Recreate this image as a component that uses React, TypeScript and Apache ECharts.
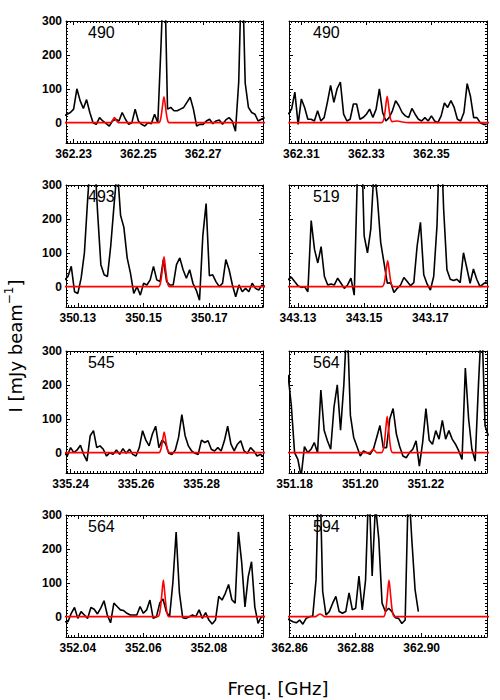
import React, { useEffect, useRef } from "react";
import * as echarts from "echarts";

// Panel labels and axis ranges (x in MHz relative to the first labelled tick)
const panelLabels = ["490", "490", "493", "519", "545", "564", "564", "594"];
const tickStartGHz = [362.23, 362.31, 350.13, 343.13, 335.24, 351.18, 352.04, 362.86];
const axisMinMHz = [-2.36, -3.8, -3.6, -2.7, -1.4, -1.7, -3.6, -0.2];
const axisMaxMHz = [58.5, 57.1, 56.3, 57.1, 58.8, 58.6, 56.5, 59.8];
const yMin = -60;
const yMax = 300;

// Observed spectra (mJy/beam), one value per 1 MHz channel, first channel at specStartMHz
const specStartMHz = [-3, -4, -4, -3, -2, -2, -4, -1];
const spec1 = [20, 25, 30, 40, 100, 65, 42, 68, 30, 0, -5, 15, 5, -2, -10, 5, 10, 5, 30, 10, -5, 0, 40, 5, -5, -10, 0, -3, 25, 0, 230, 500, 40, 45, 35, 35, 40, 45, 60, 75, 40, -10, -5, -5, 5, 10, -3, 5, 8, -5, 8, 15, 5, -25, 120, 500, 117, 45, 30, 25, 5, 10, 15];
const spec2 = [25, 40, 90, -5, 70, 45, 10, 10, 5, 35, 5, 15, 60, 110, 60, 100, 120, 25, 5, 10, 55, 55, 10, 15, 25, 40, 15, 40, 100, 30, 5, 15, 35, 65, 50, 30, 20, 15, 42, 25, 10, 5, 15, 5, 20, 5, 0, 20, 58, 45, 65, 45, 10, 5, 30, 115, 78, 15, 15, 0, -5, -5];
const spec3 = [20, 30, 60, -15, -20, 25, 100, 260, 400, 400, 220, 65, 35, 30, 120, 240, 350, 210, 175, 85, 40, -20, 0, -25, 10, 5, 20, 60, 20, 15, 80, 15, 5, 5, 65, 85, 50, 25, 50, 10, -10, -40, 150, 245, 32, 35, 15, 0, 10, 80, 50, 5, -30, 5, -15, -5, -15, 10, -5, -10, 5, 0];
const spec4 = [20, 28, 15, 3, -2, 0, -15, 195, 110, 70, 118, 30, 5, 8, 5, 25, 10, -5, 5, 25, -25, 350, 500, 150, 100, 170, 350, 260, 130, 70, 10, 12, -17, -5, 5, 27, 15, 3, 12, 120, 190, 35, 8, -10, 30, 180, 500, 230, 50, 22, 18, 22, 12, 100, 55, 10, 52, 22, 0, 8, 15];
const spec5 = [0, -10, 15, 0, 8, 22, -5, -25, 50, 65, 15, 20, 10, -10, 0, -5, 8, -5, 12, -2, 10, -5, -10, 15, 65, 37, 20, 55, 78, 15, 37, 27, -2, -5, 8, 45, 112, 50, 20, 5, -2, -5, 37, 30, 35, 10, 5, 15, 5, 35, 78, 25, 5, 25, 35, 5, -2, 15, 5, -10, -5, -12];
const spec6 = [230, 140, 0, -20, -70, 18, 0, 10, 30, 0, 185, 66, 35, 10, 134, 200, 66, 200, 400, 110, 45, 18, -10, 5, 0, -5, 10, 45, 80, 15, 15, 100, 130, 55, 18, -10, -15, 0, 10, 35, -40, 30, 130, 37, 25, 65, 40, 95, 40, 65, 40, 25, 5, -20, 250, 100, 10, -25, 200, 400, 80, 50];
const spec7 = [-15, -15, 10, 27, -5, 15, 5, -5, 27, 22, 8, 25, 47, 5, -18, 40, 30, 20, 18, 10, 5, 5, 5, 30, 10, 20, 49, -5, 0, 40, 52, 15, 0, 100, 250, 70, -3, -5, 0, 5, 0, 20, -5, 12, -10, -22, -10, 60, 49, 69, 95, 50, 40, 250, 160, 29, 118, 162, 29, -20, 0, 0];
const spec8 = [-5, -10, -15, -18, -10, -22, -5, 0, 2, 110, 500, 75, 5, 15, 39, 60, 15, 10, 15, 70, 20, 25, 120, 20, 108, 400, 120, 330, 230, 40, 15, 25, 15, -3, -5, -20, -10, 400, 230, 80, 15];

// Red model profiles: [MHz offset, mJy/beam]
const model1 = [[-3, 0], [11.3, 0], [12.0, 6], [12.6, 15], [13.2, 6], [13.9, 0], [26.3, 0], [26.9, 12], [27.4, 45], [27.9, 76], [28.4, 45], [28.9, 12], [29.5, 0], [60, 0]];
const model2 = [[-4, 0], [24.7, 0], [25.4, 12], [25.9, 45], [26.4, 78], [26.9, 45], [27.4, 12], [28, 3], [29.5, 5], [31, 2], [33, 0], [58, 0]];
const model3 = [[-4, 0], [24.5, 0], [25.2, 15], [25.7, 50], [26.2, 88], [26.7, 50], [27.2, 15], [27.9, 0], [58, 0]];
const model4 = [[-3, 0], [25.4, 0], [26.1, 12], [26.6, 45], [27.1, 76], [27.6, 45], [28.1, 12], [28.8, 0], [58, 0]];
const model5 = [[-2, 0], [27, 0], [27.6, 10], [28.1, 35], [28.6, 61], [29.1, 35], [29.6, 10], [30.3, 0], [60, 0]];
const model6 = [[-2, 0], [22.8, 0], [23.4, 5], [23.9, 10], [24.5, 5], [25, 0], [26.5, 0], [27.2, 18], [27.7, 62], [28.2, 107], [28.7, 62], [29.2, 18], [29.9, 0], [60, 0]];
const model7 = [[-4, 0], [24.4, 0], [25.1, 18], [25.6, 62], [26.1, 108], [26.6, 62], [27.1, 18], [27.8, 0], [58, 0]];
const model8 = [[-1, 0], [7.8, 0], [8.6, 5], [9.2, 8], [9.8, 5], [10.6, 0], [28.4, 0], [29.1, 18], [29.6, 62], [30.1, 108], [30.6, 62], [31.1, 18], [31.8, 0], [61, 0]];

const specs = [spec1, spec2, spec3, spec4, spec5, spec6, spec7, spec8];
const models = [model1, model2, model3, model4, model5, model6, model7, model8];

// Layout (px)
const colLeft = [66, 289];
const colWidth = [197, 198];
const rowTop = [21, 185, 351, 515];
const rowHeight = 122;

const isMultiple = (v: number, step: number) => Math.abs(v / step - Math.round(v / step)) < 1e-6;

export default function App() {
  const ref = useRef<HTMLDivElement>(null);
  useEffect(() => {
    if (!ref.current) return;
    const chart = echarts.init(ref.current, null, { renderer: "svg" });
    const grids: any[] = [];
    const xAxes: any[] = [];
    const yAxes: any[] = [];
    const series: any[] = [];
    const graphics: any[] = [];
    const tickLine = { color: "#000", width: 1 };
    const labelFont = { fontFamily: "Liberation Sans", fontWeight: "bold", fontSize: 12, color: "#000" };

    for (let i = 0; i < 8; i++) {
      const col = i % 2;
      const row = Math.floor(i / 2);
      grids.push({
        left: colLeft[col],
        top: rowTop[row],
        width: colWidth[col],
        height: rowHeight,
        containLabel: false,
        outerBoundsMode: "none",
      });
      const xBase = {
        type: "value",
        gridIndex: i,
        min: axisMinMHz[i],
        max: axisMaxMHz[i],
        splitNumber: 3,
        splitLine: { show: false },
        minorSplitLine: { show: false },
        axisLine: { show: true, onZero: false, lineStyle: { color: "#000", width: 1 } },
        axisTick: { show: true, inside: true, length: 4, lineStyle: tickLine },
        minorTick: { show: true, splitNumber: 20, length: 2, lineStyle: tickLine },
      };
      const t0 = tickStartGHz[i];
      xAxes.push({
        ...xBase,
        position: "bottom",
        axisLabel: {
          show: true,
          margin: 5,
          ...labelFont,
          showMinLabel: false,
          showMaxLabel: false,
          formatter: (v: number) => (isMultiple(v, 20) ? (t0 + v / 1000).toFixed(2) : ""),
        },
      });
      xAxes.push({ ...xBase, position: "top", axisLabel: { show: false } });
      const yBase = {
        type: "value",
        gridIndex: i,
        min: yMin,
        max: yMax,
        splitNumber: 4,
        splitLine: { show: false },
        minorSplitLine: { show: false },
        axisLine: { show: true, onZero: false, lineStyle: { color: "#000", width: 1 } },
        axisTick: { show: true, inside: true, length: 4, lineStyle: tickLine },
        minorTick: { show: true, splitNumber: 10, length: 2, lineStyle: tickLine },
      };
      yAxes.push({
        ...yBase,
        position: "left",
        axisLabel: {
          show: col === 0,
          margin: 4,
          ...labelFont,
          showMinLabel: false,
          formatter: (v: number) => (isMultiple(v, 100) && v >= 0 ? String(v) : ""),
        },
      });
      yAxes.push({ ...yBase, position: "right", axisLabel: { show: false } });

      const start = specStartMHz[i];
      series.push({
        type: "line",
        xAxisIndex: 2 * i,
        yAxisIndex: 2 * i,
        data: specs[i].map((v, k) => [start + k, v]),
        symbol: "none",
        showSymbol: false,
        silent: true,
        clip: true,
        lineStyle: { color: "#000", width: 1.6 },
        z: 2,
      });
      series.push({
        type: "line",
        xAxisIndex: 2 * i,
        yAxisIndex: 2 * i,
        data: models[i],
        symbol: "none",
        showSymbol: false,
        silent: true,
        clip: true,
        smooth: 0.3,
        lineStyle: { color: "#ff0000", width: 1.6 },
        z: 3,
      });

      graphics.push({
        type: "text",
        x: colLeft[col] + (col === 0 ? 22 : 24),
        y: rowTop[row] + 11,
        z: 10,
        style: {
          text: panelLabels[i],
          fontFamily: "Liberation Sans",
          fontSize: 16,
          fill: "#000",
          align: "left",
          verticalAlign: "middle",
          textAlign: "left",
          textVerticalAlign: "middle",
        },
      });
    }

    graphics.push({
      type: "text",
      x: 278,
      y: 688,
      style: {
        text: "Freq. [GHz]",
        fontFamily: "DejaVu Sans",
        fontSize: 18,
        fill: "#000",
        align: "center",
        verticalAlign: "middle",
        textAlign: "center",
        textVerticalAlign: "middle",
      },
    });
    graphics.push({
      type: "text",
      x: 15,
      y: 346,
      rotation: Math.PI / 2,
      style: {
        text: "{a|I [mJy beam}{s|−1}{a|]}",
        align: "center",
        verticalAlign: "middle",
        textAlign: "center",
        textVerticalAlign: "middle",
        rich: {
          a: { fontFamily: "DejaVu Sans", fontSize: 18, lineHeight: 24, fill: "#000" },
          s: { fontFamily: "DejaVu Sans", fontSize: 12, lineHeight: 12, fill: "#000", verticalAlign: "top" },
        },
      },
    });

    chart.setOption({
      animation: false,
      backgroundColor: "#fff",
      grid: grids,
      xAxis: xAxes,
      yAxis: yAxes,
      series,
      graphic: graphics,
    });
    return () => chart.dispose();
  }, []);
  return <div ref={ref} style={{ position: "fixed", left: 0, top: 0, width: 500, height: 700 }} />;
}
